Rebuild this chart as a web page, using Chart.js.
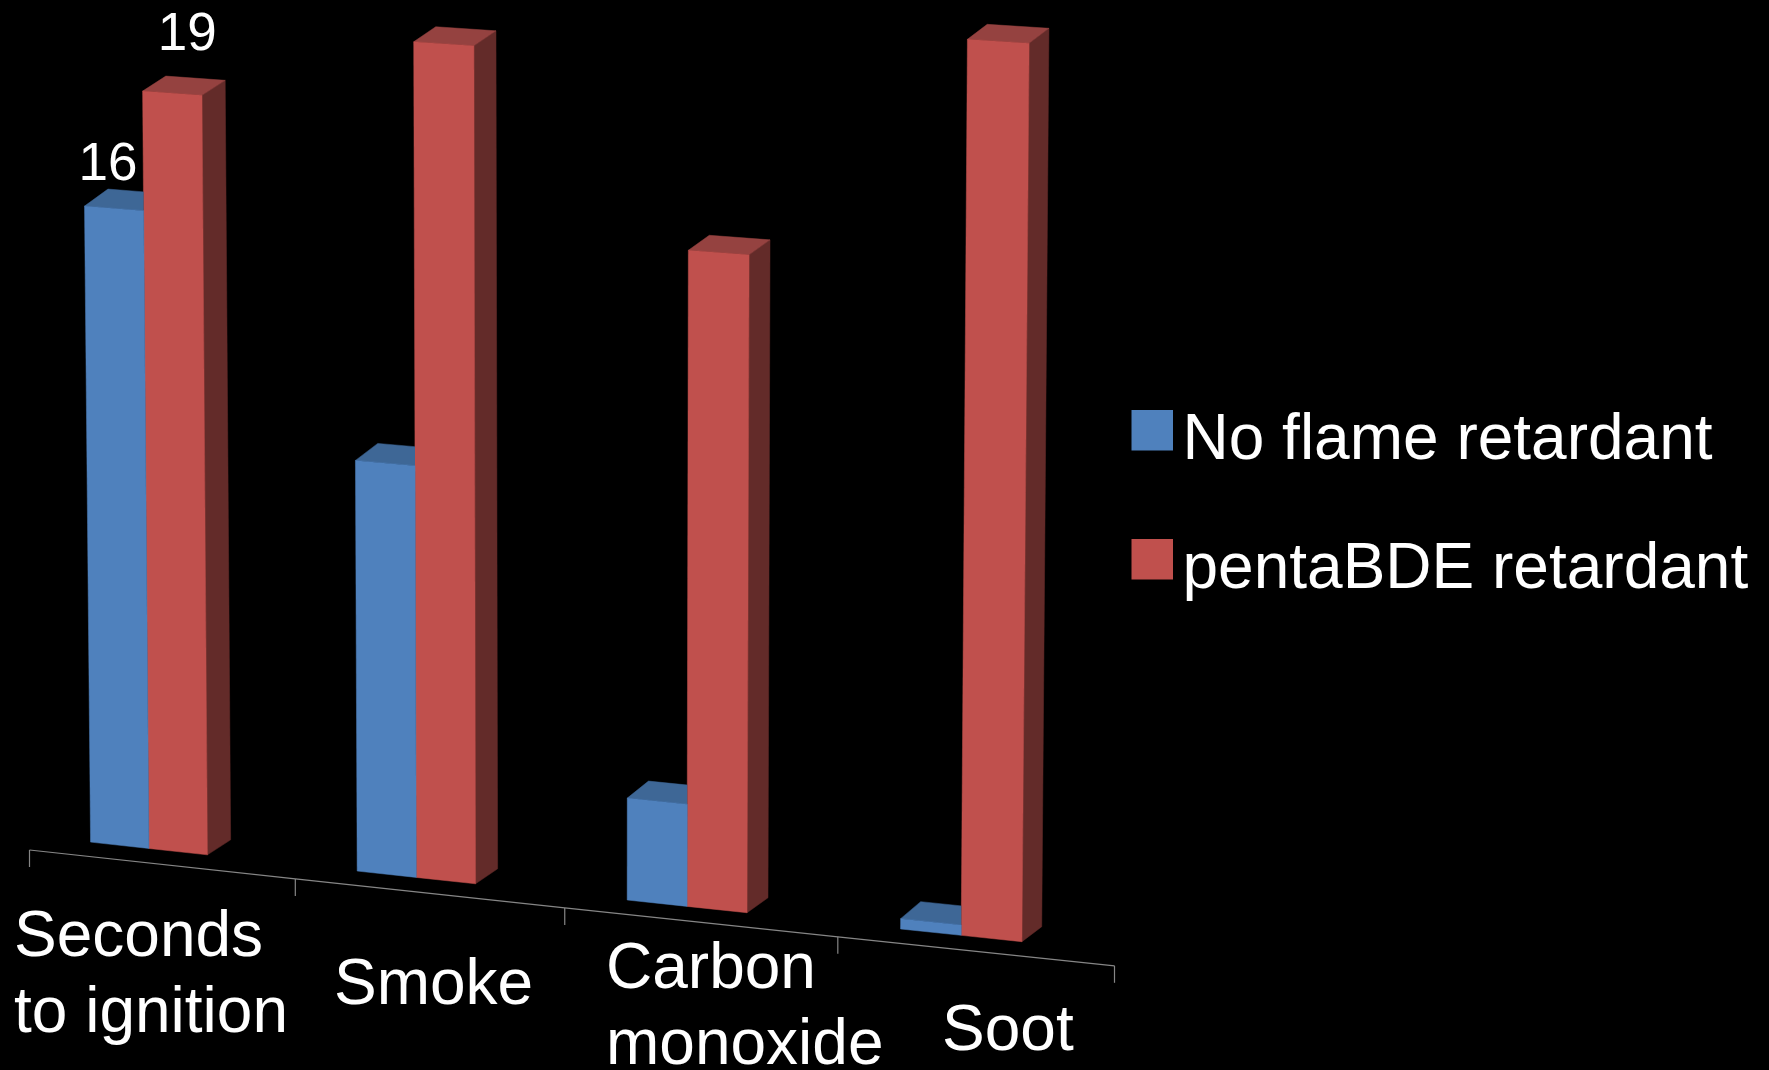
<!DOCTYPE html>
<html>
<head>
<meta charset="utf-8">
<title>Flame retardant comparison</title>
<script src="https://cdn.jsdelivr.net/npm/chart.js@4"></script>
<style>
  html, body { margin: 0; padding: 0; background: #000; }
  #wrap { width: 1769px; height: 1070px; }
</style>
</head>
<body>
<div id="wrap"><canvas id="chart"></canvas></div>
<script>
"use strict";

const CATEGORIES = [["Seconds", "to ignition"], ["Smoke"], ["Carbon", "monoxide"], ["Soot"]];
const NO_RETARDANT = [16, 10.2, 2.5, 0.25];
const PENTA_BDE = [19, 20.7, 16.05, 21.65];
const SERIES_NAMES = ["No flame retardant", "pentaBDE retardant"];
const Y_MAX = 23;

const FONT = "'Liberation Sans', Arial, sans-serif";
// front, top and side face of each series
const FACES = [
  { front: "#4f81bd", top: "#3e6796", side: "#2f4f75", rise: -17 },
  { front: "#c0504d", top: "#954240", side: "#632b29", rise: -15 },
];
// where each wrapped category label sits: left edge, centre of first line
const LABEL_SPOTS = [[14, 938], [334, 986], [606, 970], [942, 1032]];

// flat chart area -> tilted 3D view, u and v are 0..1 across the plot area
function project(chart, px, py) {
  const area = chart.chartArea;
  const u = (px - area.left) / area.width;
  const v = (area.bottom - py) / area.height;
  return {
    x: 16.5 + 1056 * u + 27 * u * u + (-10 + 19 * u) * v,
    y: 834 + 115.8 * u - v * (911 + 46.7 * u),
  };
}

function depth(chart, px, rise) {
  const u = (px - chart.chartArea.left) / chart.chartArea.width;
  return { x: 24 - 4.5 * u, y: rise };
}

function fillFace(ctx, points, color) {
  ctx.beginPath();
  points.forEach((p, i) => (i ? ctx.lineTo(p.x, p.y) : ctx.moveTo(p.x, p.y)));
  ctx.closePath();
  ctx.fillStyle = color;
  ctx.strokeStyle = color;
  ctx.lineWidth = 0.5;
  ctx.fill();
  ctx.stroke();
}

function shift(p, d) {
  return { x: p.x + d.x, y: p.y + d.y };
}

const bars3d = {
  id: "bars3d",
  beforeDraw(chart) {
    // legend and tick labels keep the library's text, only moved into place
    chart.legend.left = 1084.5;
    chart.legend.top = 344;
    chart.scales.x.getLabelItems().forEach((item, i) => {
      item.textOffset = 0;
      item.options.textAlign = "left";
      item.options.textBaseline = "middle";
      item.options.translation = LABEL_SPOTS[i];
    });
  },
  beforeDatasetDraw(chart, args) {
    const ctx = chart.ctx;
    const face = FACES[args.index];
    args.meta.data.forEach((bar) => {
      const { x, y, base, width } = bar.getProps(["x", "y", "base", "width"], true);
      const left = x - width / 2;
      const right = x + width / 2;
      const tl = project(chart, left, y);
      const tr = project(chart, right, y);
      const bl = project(chart, left, base);
      const br = project(chart, right, base);
      const d = depth(chart, right, face.rise);
      if (args.index === 1) {
        fillFace(ctx, [tr, br, shift(br, d), shift(tr, d)], face.side);
      }
      ctx.save();
      if (args.index === 0) {
        // blue stands left of the red bar, so the back of its top is hidden
        ctx.beginPath();
        ctx.rect(0, 0, tr.x, chart.height);
        ctx.clip();
      }
      fillFace(ctx, [tl, shift(tl, d), shift(tr, d), tr], face.top);
      ctx.restore();
      fillFace(ctx, [tl, tr, br, bl], face.front);
    });
    return false;
  },
  afterDatasetsDraw(chart) {
    const ctx = chart.ctx;
    const area = chart.chartArea;

    // tilted axis line with tick marks at the category borders
    ctx.save();
    ctx.strokeStyle = "#868686";
    ctx.lineWidth = 1.2;
    const n = CATEGORIES.length;
    const axisPoint = (i) => {
      const p = project(chart, area.left + (area.width * i) / n, area.bottom);
      return { x: p.x + 13 + 2 * (i / n) * (i / n), y: p.y + 16 };
    };
    ctx.beginPath();
    for (let i = 0; i <= n; i++) {
      const p = axisPoint(i);
      if (i) ctx.lineTo(p.x, p.y);
      else ctx.moveTo(p.x, p.y);
    }
    ctx.stroke();
    for (let i = 0; i <= n; i++) {
      const p = axisPoint(i);
      ctx.beginPath();
      ctx.moveTo(p.x, p.y);
      ctx.lineTo(p.x, p.y + 17);
      ctx.stroke();
    }

    // only the first group carries value labels
    ctx.fillStyle = "#fff";
    ctx.font = "53px " + FONT;
    ctx.textAlign = "center";
    ctx.textBaseline = "middle";
    const offsets = [{ x: -6, y: -43 }, { x: 15, y: -58 }];
    chart.data.datasets.forEach((ds, i) => {
      const bar = chart.getDatasetMeta(i).data[0];
      const p = project(chart, bar.x, bar.y);
      ctx.fillText(String(ds.data[0]), p.x + offsets[i].x, p.y + offsets[i].y);
    });
    ctx.restore();
  },
};

// square sits up and to the right inside a transparent canvas, which the legend centres
function legendSwatch(color) {
  const c = document.createElement("canvas");
  c.width = 45;
  c.height = 63;
  const g = c.getContext("2d");
  g.fillStyle = color;
  g.fillRect(4, 0, 41, 41);
  return c;
}

new Chart(document.getElementById("chart"), {
  type: "bar",
  data: {
    labels: CATEGORIES,
    datasets: [
      { label: SERIES_NAMES[0], data: NO_RETARDANT, backgroundColor: FACES[0].front },
      { label: SERIES_NAMES[1], data: PENTA_BDE, backgroundColor: FACES[1].front },
    ],
  },
  plugins: [bars3d],
  options: {
    responsive: true,
    maintainAspectRatio: false,
    animation: false,
    layout: { padding: 0 },
    categoryPercentage: 0.44,
    barPercentage: 1,
    scales: {
      x: {
        grid: { display: false },
        border: { display: false },
        ticks: {
          color: "#fff",
          font: { family: FONT, size: 64, lineHeight: 1.19 },
          maxRotation: 0,
          autoSkip: false,
          padding: 40,
        },
      },
      y: { display: false, min: 0, max: Y_MAX },
    },
    plugins: {
      tooltip: { enabled: false },
      legend: {
        position: "right",
        align: "start",
        labels: {
          color: "#fff",
          font: { family: FONT, size: 64, lineHeight: 1.2 },
          usePointStyle: true,
          boxWidth: 1,
          padding: 65,
          generateLabels(chart) {
            const items = Chart.defaults.plugins.legend.labels.generateLabels(chart);
            items.forEach((item, i) => {
              item.pointStyle = legendSwatch(FACES[i].front);
            });
            return items;
          },
        },
      },
    },
  },
});
</script>
</body>
</html>
